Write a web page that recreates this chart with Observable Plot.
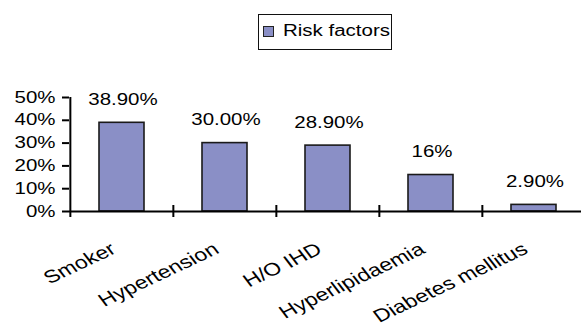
<!DOCTYPE html>
<html><head><meta charset="utf-8">
<script src="https://cdn.jsdelivr.net/npm/d3@7"></script>
<script src="https://cdn.jsdelivr.net/npm/@observablehq/plot@0.6"></script>
<style>
body{margin:0;background:#fff;font-family:"Liberation Sans",Arial,sans-serif;}
#wrap{position:relative;width:581px;height:329px;overflow:hidden;background:#fff}
#legend{position:relative;height:60px}
.lbox{position:absolute;left:258px;top:14px;width:132px;height:34px;border:1.5px solid #111;background:#fff}
.sw{position:absolute;left:4px;top:10.5px;width:9px;height:9px;border:1px solid #222}
.lt{position:absolute;left:24px;top:6px;font-size:16px;line-height:19px;transform:scaleX(1.28);transform-origin:0 0;white-space:nowrap;color:#000}
</style></head><body>
<div id="wrap"><div id="legend"><div class="lbox"><div class="sw"></div><div class="lt"></div></div></div><div id="chart"></div></div>
<script>
const categories = ["Smoker","Hypertension","H/O IHD","Hyperlipidaemia","Diabetes mellitus"];
const values = [0.389, 0.300, 0.289, 0.160, 0.029];
const valueLabels = ["38.90%","30.00%","28.90%","16%","2.90%"];
const yTicks = [0, 0.1, 0.2, 0.3, 0.4, 0.5];
const seriesName = "Risk factors";
const barColor = "#8a8fc6";

document.querySelector(".lt").textContent = seriesName;
document.querySelector(".sw").style.background = barColor;

const W = 581, H = 269, mTop = 37, mBottom = 118, mLeft = 69;
const xRange = [69, 585.5];
const step = (xRange[1] - xRange[0]) / categories.length;
const yMax = 0.5;
const pxPerUnit = (H - mTop - mBottom) / yMax;
const tk = 6 / pxPerUnit;
const data = categories.map((c, i) => ({c, v: values[i], label: valueLabels[i]}));

const chart = Plot.plot({
  width: W, height: H, marginTop: mTop, marginBottom: mBottom, marginLeft: mLeft, marginRight: 0,
  style: {fontFamily: "Liberation Sans, Arial, sans-serif", fontSize: "16px", color: "#000", background: "#fff", overflow: "visible"},
  x: {domain: categories, range: xRange, paddingInner: 0.56, paddingOuter: 0.28, axis: null},
  y: {domain: [0, yMax]},
  marks: [
    Plot.barY(data, {x: "c", y: "v", fill: barColor, stroke: "#1a1a1a", strokeWidth: 1.6}),
    Plot.ruleY([0], {stroke: "#000", strokeWidth: 2}),
    Plot.ruleX(categories, {x: d => d, dx: -step / 2, y1: (d, i) => i === 0 ? yMax : tk, y2: -tk, stroke: "#000", strokeWidth: 2}),
    Plot.axisY({ticks: yTicks, tickFormat: d3.format(".0%"), tickSize: 7, tickPadding: 7, fontSize: 16, strokeWidth: 2, label: null}),
    Plot.text(data, {x: "c", y: "v", text: "label", dy: -23, dx: 1, fontSize: 16, fill: "#000"}),
    Plot.text(categories, {x: d => d, y: () => 0, text: d => d, rotate: -31, textAnchor: "end", lineAnchor: "top", dx: -13, dy: 30, fontSize: 18, fill: "#000"})
  ]
});

chart.querySelectorAll("text").forEach(t => {
  const tr = t.getAttribute("transform");
  if (tr && /^\s*translate\(/.test(tr)) {
    t.setAttribute("transform", tr.replace(/^\s*(translate\([^)]*\))/, "$1 scale(1.28,1)"));
  } else {
    const x = +t.getAttribute("x") || 0, y = +t.getAttribute("y") || 0;
    t.removeAttribute("x"); t.removeAttribute("y");
    t.setAttribute("transform", `translate(${x},${y}) scale(1.28,1)` + (tr ? " " + tr : ""));
  }
});
document.getElementById("chart").appendChild(chart);
</script>
</body></html>
